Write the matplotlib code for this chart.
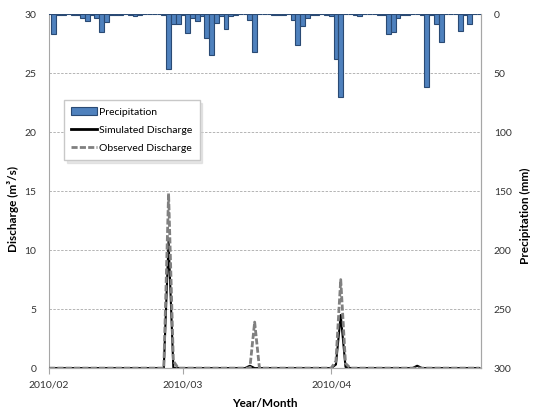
import numpy as np
import matplotlib.pyplot as plt
from matplotlib.lines import Line2D
from matplotlib.patches import Patch

plt.rcParams['font.family'] = ['Lato', 'DejaVu Sans']

# daily series, day 0 = 2010/02/01
precipitation = [0, 17, 0.5, 0.5, 0, 0.5, 0.5, 3, 6, 0.5,
                 3.5, 15.5, 7, 0.5, 0.5, 0.5, 0, 0.5, 1.5, 0.5,
                 0, 0, 0, 0, 0.5, 46.5, 8.5, 8.5, 0.5, 16,
                 3, 5.5, 2, 20, 34.5, 7.5, 2, 12.5, 2, 0.5,
                 0, 0, 5, 32, 0, 0, 0, 0.5, 0.5, 0.5,
                 0, 5, 26, 10.5, 3.5, 0.5, 0.5, 0, 0.5, 1.5,
                 38, 70.5, 0, 0, 0.5, 1.5, 0, 0, 0, 0.5,
                 0.5, 16.5, 15, 3.5, 0.5, 0.5, 0, 0, 0.5, 61.5,
                 0.5, 8, 23.5, 0, 0, 0, 14, 0.5, 8, 0,
                 0]

simulated = [0, 0, 0, 0, 0, 0, 0, 0, 0, 0,
             0, 0, 0, 0, 0, 0, 0, 0, 0, 0,
             0, 0, 0, 0, 0, 10.8, 0, 0, 0, 0,
             0, 0, 0, 0, 0, 0, 0, 0, 0, 0,
             0, 0, 0.2, 0, 0, 0, 0, 0, 0, 0,
             0, 0, 0, 0, 0, 0, 0, 0, 0, 0,
             0.3, 4.5, 0.1, 0, 0, 0, 0, 0, 0, 0,
             0, 0, 0, 0, 0, 0, 0, 0.2, 0, 0,
             0, 0, 0, 0, 0, 0, 0, 0, 0, 0,
             0]

observed = [0, 0, 0, 0, 0, 0, 0, 0, 0, 0,
            0, 0, 0, 0, 0, 0, 0, 0, 0, 0,
            0, 0, 0, 0, 0, 14.8, 0.6, 0, 0, 0,
            0, 0, 0, 0, 0, 0, 0, 0, 0, 0,
            0, 0, 0, 3.9, 0, 0, 0, 0, 0, 0,
            0, 0, 0, 0, 0, 0, 0, 0, 0, 0,
            0.6, 7.5, 0.4, 0, 0, 0, 0, 0, 0, 0,
            0, 0, 0, 0, 0, 0, 0, 0, 0, 0,
            0, 0, 0, 0, 0, 0, 0, 0, 0, 0,
            0]

month_days = [0, 28, 59]
month_labels = ['2010/02', '2010/03', '2010/04']

days = np.arange(len(precipitation))
axis_grey = '#a6a6a6'

fig = plt.figure(figsize=(5.33, 4.15), dpi=100)
ax = fig.add_axes([0.092, 0.113, 0.811, 0.853])
ax2 = ax.twinx()

# discharge lines (left axis)
ax.plot(days, simulated, color='black', lw=1.5, zorder=3)
ax.plot(days, observed, color='#808080', lw=2.0, dashes=(2.2, 0.8), zorder=4)
ax.set_xlim(0, 90.4)
ax.set_ylim(0, 30)
ax.set_yticks(np.arange(0, 31, 5))
ax.set_xticks(month_days)
ax.set_xticklabels(month_labels)
ax.grid(axis='y', color='#b4b4b4', linestyle=(0, (2.5, 1.5)), linewidth=0.7)
ax.set_axisbelow(True)
ax.set_xlabel('Year/Month', fontsize=8.5, fontweight='bold', labelpad=6)
ax.set_ylabel('Discharge (m³/s)', fontsize=8.5, fontweight='bold')
ax.yaxis.set_label_coords(-0.07, 0.45)

# precipitation bars hanging from the top (right axis, inverted)
ax2.bar(days, precipitation, width=1.0, color='#4f81bd', edgecolor='#2a4a74',
        linewidth=0.8, zorder=2)
ax2.set_ylim(300, 0)
ax2.set_yticks(np.arange(0, 301, 50))
ax2.set_ylabel('Precipitation (mm)', fontsize=8.5, fontweight='bold',
               rotation=90)
ax2.yaxis.set_label_coords(1.09, 0.43)

for a in (ax, ax2):
    a.spines['top'].set_visible(False)
    for s in ('left', 'right', 'bottom'):
        a.spines[s].set_color(axis_grey)
    a.tick_params(axis='y', length=0, pad=9, labelsize=7.5, colors='#333333')
ax2.spines['left'].set_visible(False)
ax.tick_params(axis='x', length=4, color=axis_grey, labelsize=7.5,
               labelcolor='#333333', pad=5)

handles = [Patch(facecolor='#4f81bd', edgecolor='#2a4a74', linewidth=0.8),
           Line2D([], [], color='black', lw=2),
           Line2D([], [], color='#808080', lw=2, dashes=(2.2, 0.8))]
leg = ax2.legend(handles, ['Precipitation', 'Simulated Discharge', 'Observed Discharge'],
                 loc='upper left', bbox_to_anchor=(0.035, 0.757), fontsize=7.5,
                 fancybox=False, edgecolor='#c8c8c8', framealpha=1,
                 handlelength=2.5, handletextpad=0.15, borderpad=0.7,
                 borderaxespad=0, labelspacing=0.85,
                 shadow={'color': '#d0d0d0'})
leg.set_zorder(10)

plt.savefig('out.png', dpi=100)
